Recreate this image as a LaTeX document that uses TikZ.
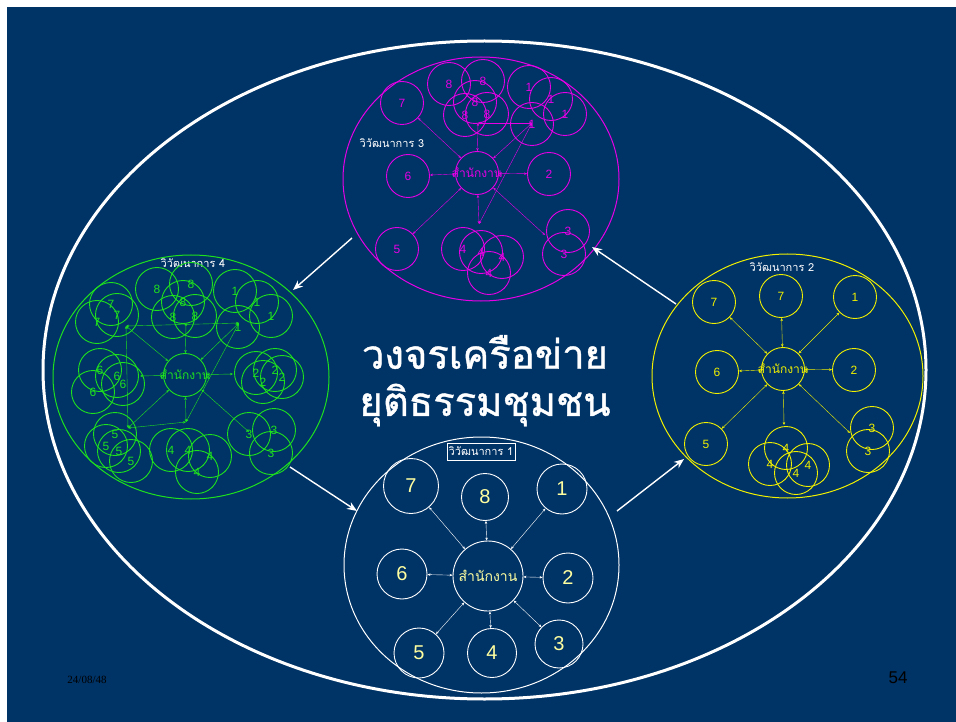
\documentclass[tikz,border=0pt]{standalone}
\usepackage{fontspec}
\setmainfont{Liberation Sans}
\newfontfamily\thaifont[Script=Thai]{Loma}
\newfontfamily\thaititle[Script=Thai,FakeBold=1]{Loma}
\newfontfamily\datefont{Liberation Serif}
\usetikzlibrary{arrows.meta,shapes.geometric}
\definecolor{navy}{RGB}{0,51,102}
\definecolor{magc}{RGB}{230,0,230}
\definecolor{grnc}{RGB}{30,225,30}
\definecolor{yelc}{RGB}{240,240,0}
\definecolor{paley}{RGB}{255,255,160}
\tikzset{
  sm/.style={circle,inner sep=0pt,minimum size=43pt,line width=0.9pt,font=\fontsize{12}{12}\selectfont},
  mc/.style={sm,draw=magc,text=magc},
  gc/.style={sm,draw=grnc,text=grnc},
  yc/.style={sm,draw=yelc,text=yelc},
  wc/.style={circle,inner sep=0pt,minimum size=50pt,draw=white,line width=0.9pt,text=paley,font=\fontsize{20}{20}\selectfont},
  net/.style={line width=0.4pt,{Stealth[length=3pt,width=2.5pt]}-{Stealth[length=3pt,width=2.5pt]}},
  ring/.style={line width=1pt},
  bigarrow/.style={draw=white,line width=1.4pt,-{Stealth[length=10pt,width=8pt]}},
  tag/.style={text=white,font=\thaifont\fontsize{11}{11}\selectfont,inner sep=1pt},
  titletext/.style={text=white,font=\thaititle\fontsize{40}{40}\selectfont},
}
\newcommand{\zw}[1]{\makebox[0pt][c]{#1}}
\begin{document}
\begin{tikzpicture}[x=1pt,y=-1pt]
\useasboundingbox (0,0) rectangle (956,722);
\fill[white] (0,0) rectangle (956,722);
\fill[navy] (7,7) rectangle (956,722);
% outer ring
\node[draw=white,line width=3pt,ellipse,minimum width=883pt,minimum height=658pt,inner sep=0pt] (outer) at (484.5,370) {};
% ---------------- magenta: 3 ----------------
\node[draw=magc,ring,ellipse,minimum width=276pt,minimum height=244pt,inner sep=0pt] (e3) at (481,179) {};
\node[tag] (l3) at (392,143) {วิวัฒนาการ 3};
\node[mc] (m3o) at (477,173) {\zw{\thaifont สำนักงาน}};
\node[mc] (m3c7) at (402,103) {7};
\node[mc] (m3c6) at (408,176) {6};
\node[mc] (m3c5) at (397,249) {5};
\node[mc] (m3c2) at (549,174) {2};
\node[mc] (m3a8) at (449,84) {8};
\node[mc] (m3b8) at (483,81) {8};
\node[mc] (m3c8) at (475,102) {8};
\node[mc] (m3d8) at (465,115) {8};
\node[mc] (m3e8) at (487,114) {8};
\node[mc] (m3a1) at (529,87) {1};
\node[mc] (m3b1) at (551,99) {1};
\node[mc] (m3c1) at (565,114) {1};
\node[mc] (m3d1) at (532,124) {1};
\node[mc] (m3a3) at (568,231) {3};
\node[mc] (m3b3) at (564,254) {3};
\node[mc] (m3a4) at (463,249) {4};
\node[mc] (m3b4) at (481,252) {4};
\node[mc] (m3c4) at (502,257) {4};
\node[mc] (m3d4) at (489,273) {4};
\coordinate (m3p8) at (478,123);
\coordinate (m3p1) at (532,123);
\coordinate (m3p4) at (479,224);
\coordinate (m3p3) at (545,235);
\begin{scope}[draw=magc,color=magc]
\draw[net] (m3o) -- (m3c7);
\draw[net] (m3o) -- (m3c6);
\draw[net] (m3o) -- (m3c5);
\draw[net] (m3o) -- (m3c2);
\draw[net] (m3o) -- (m3p3);
\draw[net] (m3o) -- (m3p8);
\draw[net] (m3p8) -- (m3p1);
\draw[net] (m3o) -- (m3p1);
\draw[net] (m3p1) -- (m3p4);
\draw[net] (m3o) -- (m3p4);
\end{scope}
% ---------------- green: 4 ----------------
\node[draw=grnc,ring,ellipse,minimum width=276pt,minimum height=244pt,inner sep=0pt] (e4) at (191,377) {};
\node[tag] (l4) at (193,263) {วิวัฒนาการ 4};
\node[gc] (g4o) at (185,375) {\zw{\thaifont สำนักงาน}};
\node[gc] (g4a8) at (157,289) {8};
\node[gc] (g4b8) at (191,284) {8};
\node[gc] (g4c8) at (183,302) {8};
\node[gc] (g4d8) at (173,317) {8};
\node[gc] (g4e8) at (195,316) {8};
\node[gc] (g4a7) at (111,304) {7};
\node[gc] (g4b7) at (117,315) {7};
\node[gc] (g4c7) at (97,322) {7};
\node[gc] (g4a1) at (235,291) {1};
\node[gc] (g4b1) at (257,302) {1};
\node[gc] (g4c1) at (271,316) {1};
\node[gc] (g4d1) at (238,327) {1};
\node[gc] (g4a6) at (100,370) {6};
\node[gc] (g4b6) at (117,376) {6};
\node[gc] (g4c6) at (123,384) {6};
\node[gc] (g4d6) at (93,392) {6};
\node[gc] (g4a2) at (256,373) {2};
\node[gc] (g4b2) at (275,370) {2};
\node[gc] (g4c2) at (282,377) {2};
\node[gc] (g4d2) at (263,382) {2};
\node[gc] (g4a5) at (115,434) {5};
\node[gc] (g4b5) at (106,446) {5};
\node[gc] (g4c5) at (119,451) {5};
\node[gc] (g4d5) at (131,461) {5};
\node[gc] (g4a4) at (171,450) {4};
\node[gc] (g4b4) at (188,450) {4};
\node[gc] (g4c4) at (210,456) {4};
\node[gc] (g4d4) at (197,472) {4};
\node[gc] (g4a3) at (249,434) {3};
\node[gc] (g4b3) at (274,430) {3};
\node[gc] (g4c3) at (271,453) {3};
\coordinate (g4p8) at (186,323);
\coordinate (g4p7) at (126,326);
\coordinate (g4p1) at (239,323);
\coordinate (g4p5) at (128,428);
\coordinate (g4p6) at (140,376);
\coordinate (g4p2) at (233,374);
\coordinate (g4p4) at (186,422);
\coordinate (g4p3) at (249,432);
\begin{scope}[draw=grnc,color=grnc]
\draw[net] (g4o) -- (g4p8);
\draw[net] (g4p7) -- (g4p1);
\draw[net] (g4o) -- (g4p7);
\draw[net] (g4p7) -- (g4p5);
\draw[net] (g4o) -- (g4p6);
\draw[net] (g4o) -- (g4p2);
\draw[net] (g4o) -- (g4p1);
\draw[net] (g4o) -- (g4p4);
\draw[net] (g4p1) -- (g4p4);
\draw[net] (g4o) -- (g4p5);
\draw[net] (g4p5) -- (g4p4);
\draw[net] (g4o) -- (g4p3);
\end{scope}
% ---------------- yellow: 2 ----------------
\node[draw=yelc,ring,ellipse,minimum width=271pt,minimum height=244pt,inner sep=0pt] (e2) at (787.5,376) {};
\node[tag] (l2) at (782,267) {วิวัฒนาการ 2};
\node[yc] (y2o) at (783,369) {\zw{\thaifont สำนักงาน}};
\node[yc] (y2c7a) at (714,302) {7};
\node[yc] (y2c7b) at (781,296) {7};
\node[yc] (y2c1) at (855,297) {1};
\node[yc] (y2c6) at (717,372) {6};
\node[yc] (y2c2) at (854,370) {2};
\node[yc] (y2c5) at (706,444) {5};
\node[yc] (y2a3) at (872,428) {3};
\node[yc] (y2b3) at (868,451) {3};
\node[yc] (y2a4) at (786,448) {4};
\node[yc] (y2b4) at (770,464) {4};
\node[yc] (y2c4) at (796,473) {4};
\node[yc] (y2d4) at (808,465) {4};
\coordinate (y2p4) at (784,425);
\coordinate (y2p3) at (850,433);
\begin{scope}[draw=yelc,color=yelc]
\draw[net] (y2o) -- (y2c7a);
\draw[net] (y2o) -- (y2c7b);
\draw[net] (y2o) -- (y2c1);
\draw[net] (y2o) -- (y2c6);
\draw[net] (y2o) -- (y2c2);
\draw[net] (y2o) -- (y2c5);
\draw[net] (y2o) -- (y2p4);
\draw[net] (y2o) -- (y2p3);
\end{scope}
% ---------------- white: 1 ----------------
\node[draw=white,ring,ellipse,minimum width=275pt,minimum height=256pt,inner sep=0pt] (e1) at (481.5,565) {};
\node[draw=white,line width=0.8pt,text=white,font=\thaifont\fontsize{11}{11}\selectfont,minimum width=68pt,minimum height=17pt,inner sep=1pt] (l1) at (481,451.5) {วิวัฒนาการ 1};
\node[wc,minimum size=70pt,font=\thaifont\fontsize{14}{14}\selectfont] (w1o) at (488,576) {สำนักงาน};
\node[wc,minimum size=55pt] (w1c7) at (411,486) {7};
\node[wc,minimum size=47pt] (w1c8) at (485,497) {8};
\node[wc] (w1c1) at (562,489) {1};
\node[wc] (w1c6) at (402,574) {6};
\node[wc] (w1c2) at (568,578) {2};
\node[wc] (w1c5) at (419,653) {5};
\node[wc,minimum size=49pt] (w1c4) at (492,653) {4};
\node[wc,minimum size=48pt] (w1c3) at (559,644) {3};
\begin{scope}[draw=white,color=white]
\foreach \t in {7,8,1,6,2,5,4,3} \draw[net] (w1o) -- (w1c\t);
\end{scope}
% ---------------- title ----------------
\node[titletext] (t1) at (485,352) {วงจรเครือข่าย};
\node[titletext] (t2) at (485,405) {ยุติธรรมชุมชน};
% ---------------- big arrows ----------------
\coordinate (a1s) at (352,238); \coordinate (a1e) at (293,290);
\coordinate (a2s) at (290,467); \coordinate (a2e) at (357,511);
\coordinate (a3s) at (617,511); \coordinate (a3e) at (684,459);
\coordinate (a4s) at (676,304); \coordinate (a4e) at (592,247);
\draw[bigarrow] (a1s) -- (a1e);
\draw[bigarrow] (a2s) -- (a2e);
\draw[bigarrow] (a3s) -- (a3e);
\draw[bigarrow] (a4s) -- (a4e);
% ---------------- footer ----------------
\node[text=black,font=\datefont\fontsize{11}{11}\selectfont] (date) at (87,680) {24/08/48};
\node[text=black,font=\fontsize{17}{17}\selectfont] (page) at (898,678) {54};
\end{tikzpicture}
\end{document}
